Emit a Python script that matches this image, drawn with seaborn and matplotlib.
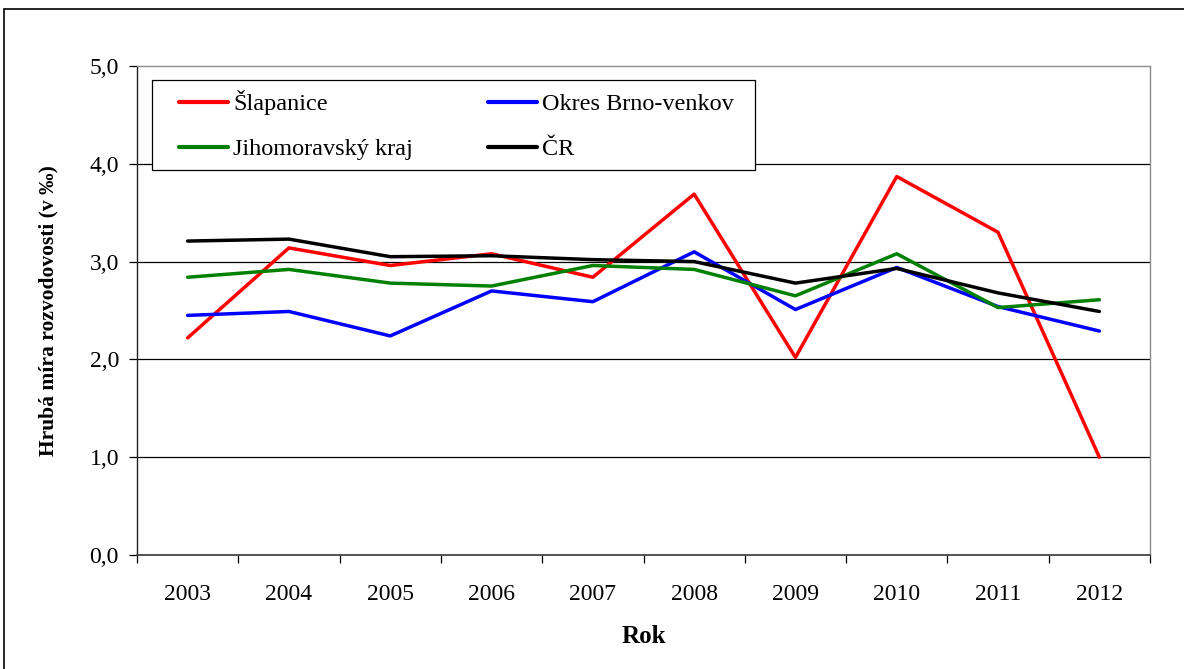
import numpy as np
import pandas as pd
import matplotlib
matplotlib.use("Agg")
import matplotlib.pyplot as plt
from matplotlib.patches import Rectangle
from matplotlib.ticker import FixedLocator, FuncFormatter
import seaborn as sns

# Crude divorce rate (per mille), 2003-2012
years = ["2003", "2004", "2005", "2006", "2007", "2008", "2009", "2010", "2011", "2012"]
slapanice = [2.22, 3.14, 2.96, 3.08, 2.84, 3.69, 2.02, 3.87, 3.30, 1.00]
brno_venkov = [2.45, 2.49, 2.24, 2.70, 2.59, 3.10, 2.51, 2.94, 2.54, 2.29]
jihomoravsky = [2.84, 2.92, 2.78, 2.75, 2.96, 2.92, 2.65, 3.08, 2.53, 2.61]
cr = [3.21, 3.23, 3.05, 3.06, 3.02, 3.00, 2.78, 2.93, 2.68, 2.49]

series_names = ["Šlapanice", "Okres Brno-venkov", "Jihomoravský kraj", "ČR"]
series_values = [slapanice, brno_venkov, jihomoravsky, cr]
series_colors = ["#FF0000", "#0000FF", "#008000", "#000000"]

y_ticks = [0, 1, 2, 3, 4, 5]

rows = []
for name, vals in zip(series_names, series_values):
    for i, v in enumerate(vals):
        rows.append({"pos": i, "Rok": years[i], "value": v, "series": name})
df = pd.DataFrame(rows)

sns.set_theme(style="white")
plt.rcParams["font.family"] = ["Liberation Serif", "DejaVu Serif"]
plt.rcParams["text.color"] = "black"
plt.rcParams["axes.labelcolor"] = "black"

W, H = 1184, 669
fig = plt.figure(figsize=(W / 100, H / 100), dpi=100)
ax = fig.add_axes([137 / W, 1 - 555 / H, (1150 - 137) / W, (555 - 66) / H])

sns.lineplot(data=df, x="pos", y="value", hue="series", hue_order=series_names,
             palette=dict(zip(series_names, series_colors)), linewidth=2.5,
             ax=ax, legend=True, sort=False)

ax.set_xlim(-0.5, len(years) - 0.5)
ax.set_ylim(0, 5)

# horizontal gridlines
for yv in y_ticks[1:-1]:
    ax.axhline(yv, color="black", linewidth=0.9, zorder=0)

# category axis: labels centred, tick marks between categories
ax.xaxis.set_major_locator(FixedLocator(range(len(years))))
ax.xaxis.set_major_formatter(FuncFormatter(
    lambda v, p: years[int(round(v))] if 0 <= round(v) < len(years) else ""))
ax.xaxis.set_minor_locator(FixedLocator(np.arange(-0.5, len(years), 1.0)))
ax.tick_params(axis="x", which="major", length=0, pad=21, labelsize=17, colors="black")
ax.tick_params(axis="x", which="minor", length=6, width=0.9, color="black",
               direction="out", bottom=True)

ax.yaxis.set_major_locator(FixedLocator(y_ticks))
ax.yaxis.set_major_formatter(FuncFormatter(lambda v, p: f"{v:.1f}".replace(".", ",")))
ax.tick_params(axis="y", which="major", length=6, width=0.9, color="black",
               direction="out", left=True, pad=7, labelsize=17, labelcolor="black")

for side in ["top", "right"]:
    ax.spines[side].set_color("#8c8c8c")
    ax.spines[side].set_linewidth(1.0)
ax.spines["left"].set_color("#222222")
ax.spines["left"].set_linewidth(1.0)
ax.spines["bottom"].set_color("#444444")
ax.spines["bottom"].set_linewidth(1.3)

ax.set_xlabel("Rok", fontsize=18, fontweight="bold", labelpad=14)
ax.set_ylabel("Hrubá míra rozvodovosti (v ‰)", fontsize=15.5, fontweight="bold", labelpad=22)

# legend frame
ax.add_patch(Rectangle((15 / 1013, (555 - 170) / 489), (755 - 152) / 1013, 90 / 489,
                       transform=ax.transAxes, facecolor="white", edgecolor="black",
                       linewidth=0.9, zorder=4))

# legend entries, row-wise order (column-major fill)
handles, labels = ax.get_legend_handles_labels()
order = [0, 2, 1, 3]
leg = ax.legend([handles[i] for i in order], [labels[i] for i in order], ncol=2,
                loc="upper left",
                bbox_to_anchor=(42 / 1013, (555 - 95) / 489, 555 / 1013, 0.01),
                mode="expand", borderaxespad=0, borderpad=0, fontsize=17.5,
                frameon=False, handlelength=2.0, handletextpad=0.22,
                labelspacing=0.95, columnspacing=1.0)
leg.set_zorder(5)
for line in leg.get_lines():
    line.set_linewidth(3)

# outer chart border
fig.patches.append(Rectangle((4 / W, -0.05), 1.2, (660 / H) + 0.05,
                             transform=fig.transFigure, fill=False,
                             edgecolor="black", linewidth=1.2))

fig.savefig("out.png", dpi=100, facecolor="white")
